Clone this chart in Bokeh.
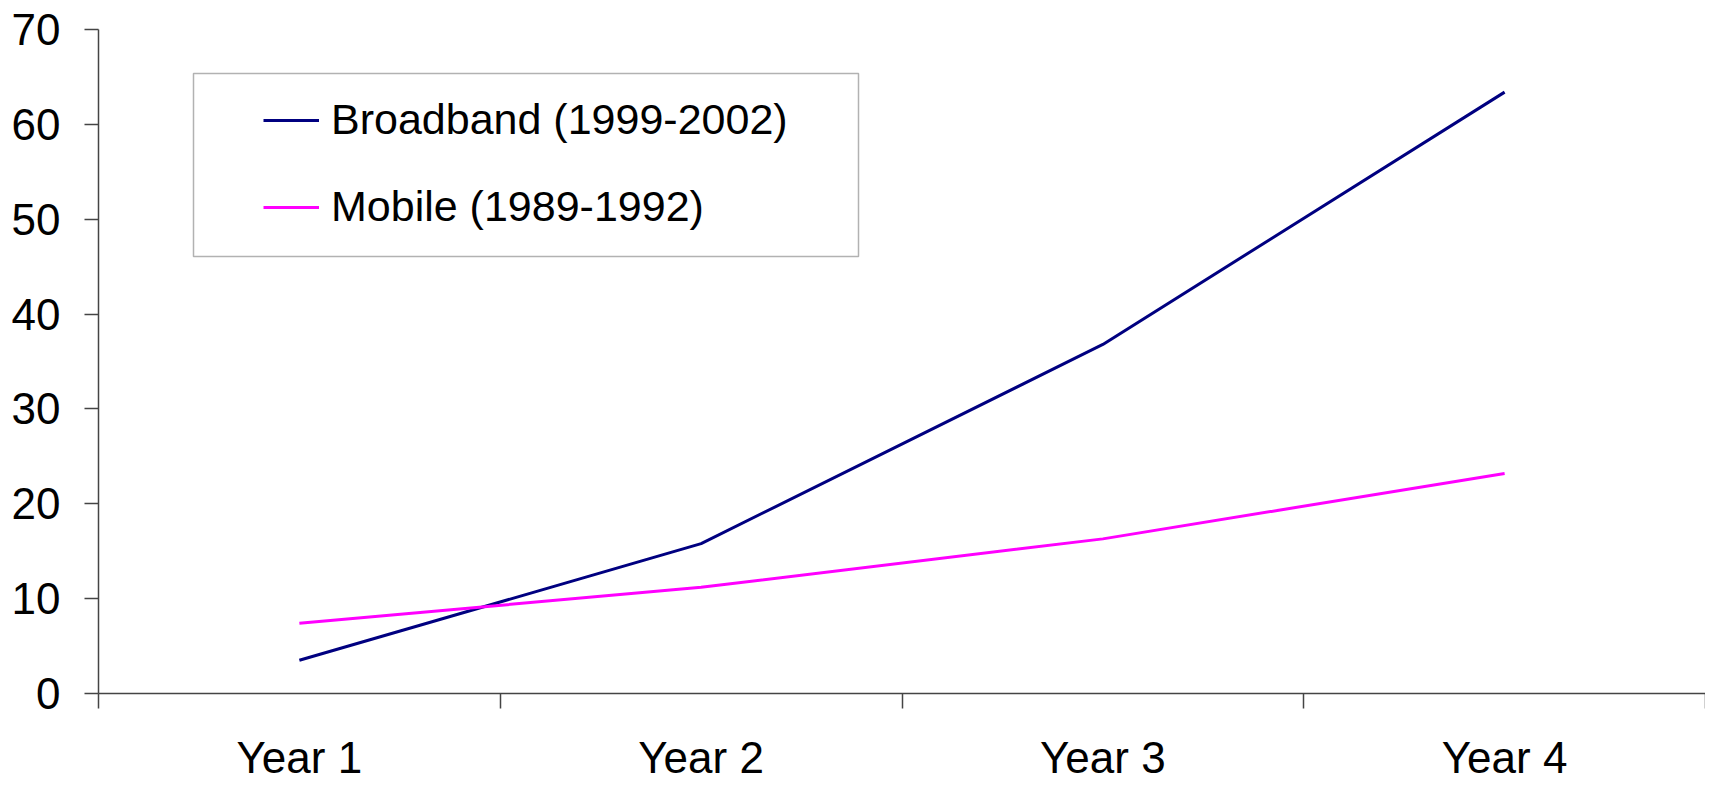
from bokeh.plotting import figure
from bokeh.models import Range1d, FixedTicker, Legend, LegendItem, BoxAnnotation
from bokeh.embed import file_html
from bokeh.resources import INLINE

years = ["Year 1", "Year 2", "Year 3", "Year 4"]
broadband = [3.5, 15.8, 36.8, 63.4]
mobile = [7.4, 11.2, 16.3, 23.2]
y_ticks = [0, 10, 20, 30, 40, 50, 60, 70]
series_names = ["Broadband (1999-2002)", "Mobile (1989-1992)"]
series_colors = ["#000080", "#FF00FF"]

xs = [i + 0.5 for i in range(len(years))]
bounds = list(range(len(years) + 1))

FONT = "Liberation Sans"
AXIS_COLOR = "#444444"

p = figure(width=1705, height=795, output_backend="svg", toolbar_location=None,
           x_range=Range1d(0, len(years)), y_range=Range1d(y_ticks[0], y_ticks[-1]),
           min_border_left=98, min_border_right=0, min_border_top=29, min_border_bottom=102)
p.outline_line_color = None
p.grid.visible = False
p.background_fill_color = "white"

r1 = p.line(xs, broadband, line_color=series_colors[0], line_width=3)
r2 = p.line(xs, mobile, line_color=series_colors[1], line_width=3)

xa = p.xaxis[0]
xa.ticker = FixedTicker(ticks=xs, minor_ticks=bounds)
xa.major_label_overrides = {x: y for x, y in zip(xs, years)}
xa.major_tick_line_color = None
xa.major_tick_out = 0
xa.major_tick_in = 0
xa.minor_tick_out = 15
xa.minor_tick_in = 0
xa.minor_tick_line_color = AXIS_COLOR
xa.minor_tick_line_width = 1.5
xa.axis_line_color = AXIS_COLOR
xa.axis_line_width = 1.5
xa.major_label_text_font = FONT
xa.major_label_text_font_size = "44px"
xa.major_label_text_color = "black"
xa.major_label_standoff = 24

ya = p.yaxis[0]
ya.ticker = FixedTicker(ticks=y_ticks, minor_ticks=[])
ya.major_tick_out = 14
ya.major_tick_in = 0
ya.major_tick_line_color = AXIS_COLOR
ya.major_tick_line_width = 1.5
ya.axis_line_color = AXIS_COLOR
ya.axis_line_width = 1.5
ya.major_label_text_font = FONT
ya.major_label_text_font_size = "44px"
ya.major_label_text_color = "black"
ya.major_label_standoff = 24

# legend frame (screen units, relative to the plot frame)
box = BoxAnnotation(left=95, right=760, top=620, bottom=437,
                    left_units="screen", right_units="screen",
                    top_units="screen", bottom_units="screen",
                    fill_color=None, line_color="black", line_width=1.5)
p.add_layout(box)

legend = Legend(
    items=[LegendItem(label=series_names[0], renderers=[r1]),
           LegendItem(label=series_names[1], renderers=[r2])],
    location=(165, 462), padding=10, margin=0,
    glyph_width=56, glyph_height=40, label_standoff=12, spacing=38,
    border_line_color=None, background_fill_alpha=0.0,
    label_text_font=FONT, label_text_font_size="43px", label_text_color="black",
)
p.add_layout(legend)

open("out.html", "w").write(file_html(p, INLINE))
